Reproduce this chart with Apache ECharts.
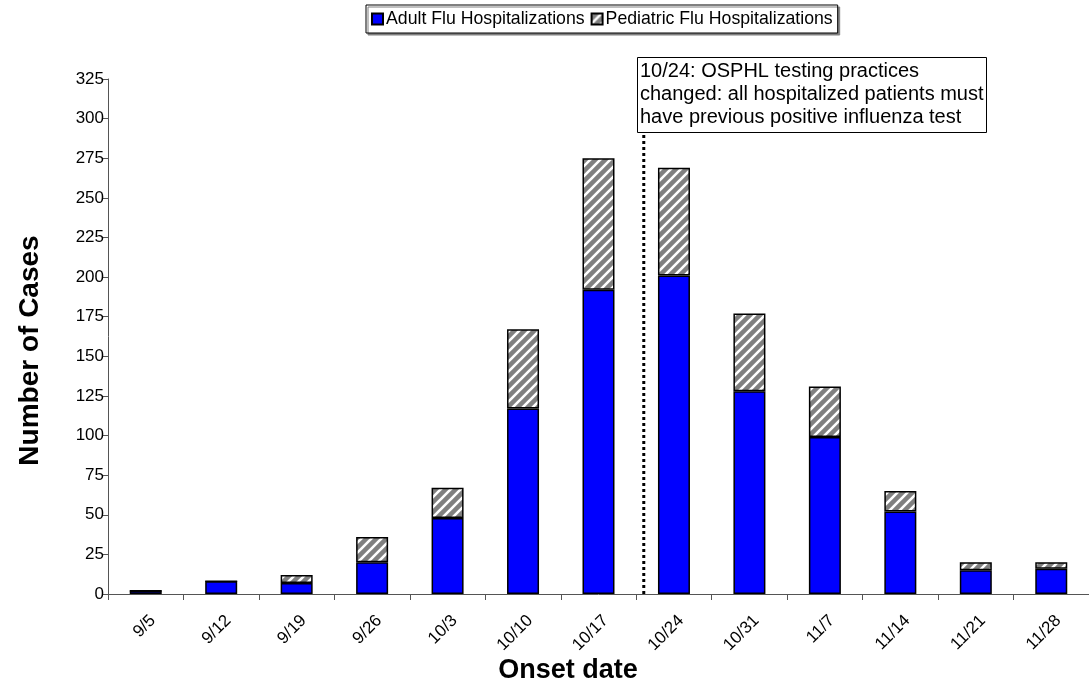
<!DOCTYPE html>
<html>
<head>
<meta charset="utf-8">
<script src="https://cdn.jsdelivr.net/npm/echarts@6/dist/echarts.min.js"></script>
<style>
html,body{margin:0;padding:0;background:#fff;}
#chart{width:1089px;height:694px;}
</style>
</head>
<body>
<div id="chart"></div>
<script>
// ---- data ----
const categories = ['9/5','9/12','9/19','9/26','10/3','10/10','10/17','10/24','10/31','11/7','11/14','11/21','11/28'];
const adultFlu = [2, 8, 7, 20, 48, 117, 192, 201, 128, 99, 52, 15, 16];
const pediatricFlu = [0, 0, 5, 16, 19, 50, 83, 68, 49, 32, 13, 5, 4];
const yTicks = {min: 0, max: 325, step: 25};
const changeLine = [[7.1, 0], [7.1, 294]]; // 10/24 testing change marker (category units, cases)
const annotationText = '10/24: OSPHL testing practices\nchanged: all hospitalized patients must\nhave previous positive influenza test';

// hatch pattern
function makeHatch(){
  const s = 10;
  const c = document.createElement('canvas');
  c.width = s; c.height = s;
  const g = c.getContext('2d');
  g.fillStyle = '#808080';
  g.fillRect(0,0,s,s);
  g.strokeStyle = '#ffffff';
  g.lineWidth = 2.6;
  g.beginPath();
  g.moveTo(0,s); g.lineTo(s,0);
  g.moveTo(-s/2,s/2); g.lineTo(s/2,-s/2);
  g.moveTo(s/2,s*1.5); g.lineTo(s*1.5,s/2);
  g.stroke();
  return c;
}
const hatch = {image: makeHatch(), repeat: 'repeat'};

const chart = echarts.init(document.getElementById('chart'), null, {renderer: 'canvas'});
const font = 'Liberation Sans, Arial, sans-serif';
chart.setOption({
  animation: false,
  backgroundColor: '#fff',
  textStyle: {fontFamily: font, color: '#000'},
  title: [{
    text: annotationText,
    left: 637, top: 57,
    padding: [3, 3, 4, 3],
    backgroundColor: '#fff',
    borderColor: '#000', borderWidth: 1,
    textStyle: {fontFamily: font, fontSize: 20, fontWeight: 'normal', color: '#000', lineHeight: 23},
    z: 10
  }, {
    text: 'Onset date',
    left: 563, top: 652, textAlign: 'center',
    textStyle: {fontFamily: font, fontSize: 27, fontWeight: 'bold', color: '#000'}
  }],
  legend: {
    left: 366, top: 5,
    padding: [5, 5, 5, 5],
    itemGap: 6,
    itemWidth: 11, itemHeight: 11,
    icon: 'rect',
    borderColor: '#000', borderWidth: 1,
    backgroundColor: '#fff',
    shadowColor: '#808080', shadowOffsetX: 2, shadowOffsetY: 2, shadowBlur: 0,
    textStyle: {fontFamily: font, fontSize: 17.7, color: '#000', padding: [0,0,0,-2]},
    data: ['Adult Flu Hospitalizations', 'Pediatric Flu Hospitalizations']
  },
  grid: {left: 108, right: -7, top: 79, bottom: 100, containLabel: false},
  xAxis: [{
    type: 'category',
    data: categories,
    boundaryGap: true,
    axisLine: {lineStyle: {color: '#555', width: 1}},
    axisTick: {show: true, alignWithLabel: false, length: 6, lineStyle: {color: '#555'}},
    axisLabel: {rotate: 45, fontSize: 17, color: '#000', fontFamily: font, margin: 31, padding: [0, -10, 0, 0]}
  }, {
    type: 'value', min: 0, max: categories.length, show: false
  }],
  yAxis: {
    type: 'value',
    min: yTicks.min, max: yTicks.max, interval: yTicks.step,
    name: 'Number of Cases',
    nameLocation: 'middle',
    nameGap: 64,
    nameTextStyle: {fontFamily: font, fontSize: 28, fontWeight: 'bold', color: '#000', padding: [0, 28, 0, 0]},
    axisLine: {show: true, lineStyle: {color: '#555', width: 1}},
    axisTick: {show: true, length: 6, lineStyle: {color: '#555'}},
    axisLabel: {fontSize: 17, color: '#000', fontFamily: font, margin: 4},
    splitLine: {show: false}
  },
  series: [{
    name: 'Adult Flu Hospitalizations',
    type: 'bar', stack: 'flu',
    data: adultFlu,
    barWidth: 32,
    itemStyle: {color: '#0000ff', borderColor: '#000', borderWidth: 1.5}
  }, {
    name: 'Pediatric Flu Hospitalizations',
    type: 'bar', stack: 'flu',
    data: pediatricFlu,
    barWidth: 32,
    itemStyle: {color: hatch, borderColor: '#000', borderWidth: 1.5}
  }, {
    type: 'line',
    xAxisIndex: 1,
    data: changeLine,
    symbol: 'none',
    silent: true,
    lineStyle: {color: '#000', width: 3, type: [3, 3]},
    z: 5
  }]
});
</script>
</body>
</html>
